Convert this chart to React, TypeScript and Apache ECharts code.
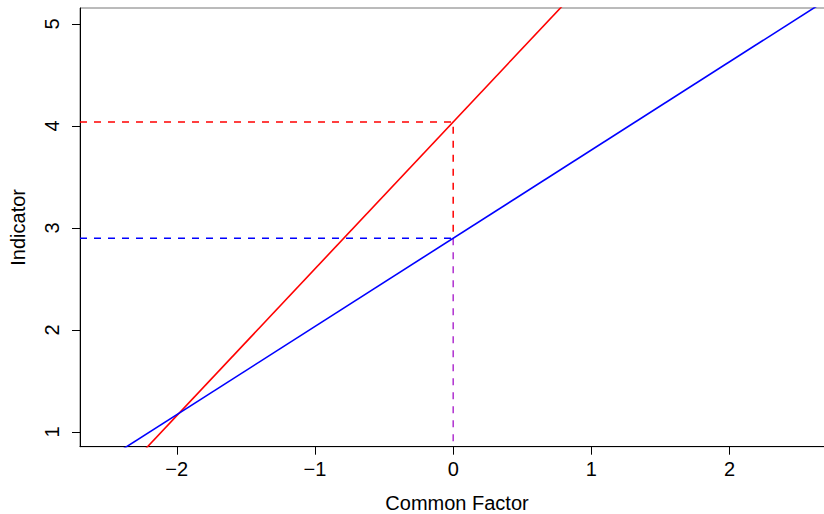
import React, { useEffect, useRef } from "react";
import * as echarts from "echarts";

const xTicks = [-2, -1, 0, 1, 2];
const yTicks = [1, 2, 3, 4, 5];
const xRange = [-2.7, 2.755];
const yRange = [0.856, 5.157];

// lines (endpoints beyond the plot, clipped by the grid)
const redLine = [
  [-3, -0.28],
  [3, 8.36],
];
const blueLine = [
  [-3, 0.305],
  [3, 5.495],
];
const redIntercept = 4.04;
const blueIntercept = 2.9;
const refX = 0;

const FONT = "'Liberation Sans', Arial, Helvetica, sans-serif";

const fmt = (v: number) => (v < 0 ? "\u2212" + Math.abs(v) : String(v));

export default function App() {
  const ref = useRef<HTMLDivElement>(null);
  useEffect(() => {
    document.body.style.margin = "0";
    document.body.style.overflow = "hidden";
    const chart = echarts.init(ref.current!, null, { renderer: "svg" });
    const dashed = (color: string) => ({
      type: "line",
      showSymbol: false,
      symbol: "none",
      clip: true,
      lineStyle: { color, width: 1.5, type: [7, 7] },
      silent: true,
    });
    chart.setOption({
      animation: false,
      backgroundColor: "#ffffff",
      textStyle: { fontFamily: FONT },
      grid: {
        left: 80,
        top: 8,
        right: -10,
        bottom: 67.3,
        show: true,
        borderColor: "#777",
        borderWidth: 1,
        containLabel: false,
        outerBoundsMode: "none",
      },
      xAxis: {
        type: "value",
        min: xRange[0],
        max: xRange[1],
        name: "Common Factor",
        nameLocation: "middle",
        nameGap: 46,
        nameTextStyle: { fontSize: 20, color: "#000", fontFamily: FONT },
        splitLine: { show: false },
        axisLine: { show: true, onZero: false, lineStyle: { color: "#000", width: 1 } },
        axisTick: {
          show: true,
          length: 8,
          customValues: xTicks,
          lineStyle: { color: "#000" },
        },
        axisLabel: {
          customValues: xTicks,
          formatter: fmt,
          fontSize: 20,
          color: "#000",
          margin: 12,
          fontFamily: FONT,
        },
      },
      yAxis: {
        type: "value",
        min: yRange[0],
        max: yRange[1],
        name: "Indicator",
        nameLocation: "middle",
        nameGap: 52,
        nameRotate: 90,
        nameTextStyle: { fontSize: 20, color: "#000", fontFamily: FONT },
        splitLine: { show: false },
        axisLine: { show: true, onZero: false, lineStyle: { color: "#000", width: 1 } },
        axisTick: {
          show: true,
          length: 8,
          customValues: yTicks,
          lineStyle: { color: "#000" },
        },
        axisLabel: {
          customValues: yTicks,
          rotate: 90,
          fontSize: 20,
          color: "#000",
          margin: 18,
          fontFamily: FONT,
        },
      },
      series: [
        {
          ...dashed("#ff0000"),
          data: [
            [xRange[0], redIntercept],
            [refX, redIntercept],
            [refX, blueIntercept],
          ],
        },
        {
          ...dashed("#0000ff"),
          data: [
            [xRange[0], blueIntercept],
            [refX, blueIntercept],
          ],
        },
        {
          ...dashed("#b030d0"),
          data: [
            [refX, blueIntercept],
            [refX, yRange[0]],
          ],
        },
        {
          type: "line",
          showSymbol: false,
          symbol: "none",
          clip: true,
          lineStyle: { color: "#ff0000", width: 1.6 },
          data: redLine,
        },
        {
          type: "line",
          showSymbol: false,
          symbol: "none",
          clip: true,
          lineStyle: { color: "#0000ff", width: 1.6 },
          data: blueLine,
        },
      ],
    });
    return () => chart.dispose();
  }, []);
  return (
    <div
      ref={ref}
      style={{ position: "fixed", left: 0, top: 0, width: 824, height: 514 }}
    />
  );
}
